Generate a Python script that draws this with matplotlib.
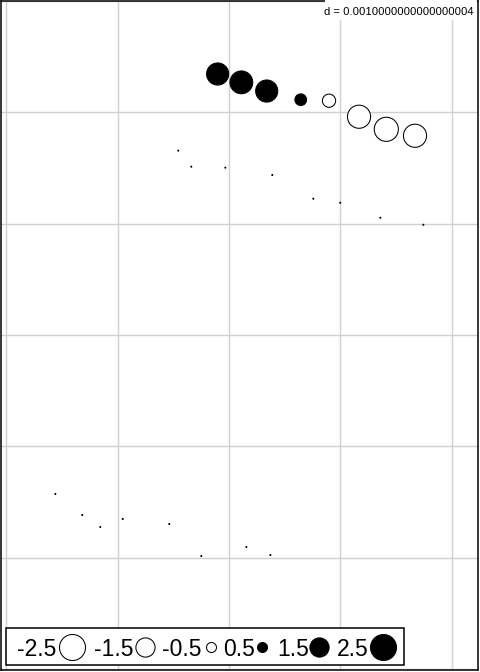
import numpy as np
import matplotlib.pyplot as plt
from matplotlib.patches import Rectangle
from matplotlib.lines import Line2D
from matplotlib.ticker import MultipleLocator

plt.rcParams['font.family'] = ['Liberation Sans', 'DejaVu Sans']

W, H, DPI = 480, 672, 100

# point coordinates and values
x = [-0.000102, 0.000111, 0.000339, 0.000645, 0.000899, 0.001169, 0.001414, 0.001672,
     -0.000456, -0.000339, -0.000033, 0.000389, 0.000758, 0.001000, 0.001360, 0.001747,
     -0.001561, -0.001319, -0.001157, -0.000955, -0.000537, -0.000249, 0.000156, 0.000372]
y = [0.002346, 0.002271, 0.002193, 0.002115, 0.002106, 0.001962, 0.001849, 0.001791,
     0.001657, 0.001513, 0.001504, 0.001438, 0.001225, 0.001189, 0.001054, 0.000991,
     -0.001429, -0.001618, -0.001726, -0.001654, -0.001699, -0.001987, -0.001906, -0.001978]
z = [1.9, 2.0, 1.9, 0.65, -0.8, -2.05, -2.2, -2.05,
     0.01, 0.01, 0.01, 0.01, 0.01, 0.01, 0.01, 0.01,
     0.01, 0.01, 0.01, 0.01, 0.01, 0.01, 0.01, 0.01]

legend_vals = [-2.5, -1.5, -0.5, 0.5, 1.5, 2.5]
legend_labels = ['-2.5', '-1.5', '-0.5', '0.5', '1.5', '2.5']
d = 0.001
d_label = 'd = 0.0010000000000000004'


def diam_px(v):
    # symbol diameter in pixels from the value
    return 15.1 * abs(v) ** 0.594


def px(xp, yp):
    return xp / W, 1 - yp / H


fig = plt.figure(figsize=(W / DPI, H / DPI), dpi=DPI)
ax = fig.add_axes([1 / W, 2 / H, 477 / W, 669 / H])

ax.set_xlim(-2.0494 * d, 2.2382 * d)
ax.set_ylim(-3.0112 * d, 3.0022 * d)
ax.xaxis.set_major_locator(MultipleLocator(d))
ax.yaxis.set_major_locator(MultipleLocator(d))
ax.grid(True, color='#D0D0D0', lw=1.0)
ax.set_axisbelow(True)
ax.tick_params(length=0, labelbottom=False, labelleft=False)
for sp in ax.spines.values():
    sp.set_linewidth(1.1)

sizes = [(diam_px(v) * 72 / DPI) ** 2 for v in z]
faces = ['black' if v > 0 else 'white' for v in z]
ax.scatter(x, y, s=sizes, c=faces, edgecolors='black', linewidths=0.75, zorder=3)

# grid size label
fig.add_artist(Rectangle(px(325, 20), 152 / W, 20 / H, transform=fig.transFigure,
                         facecolor='white', edgecolor='none', zorder=5))
fig.text(*px(474, 15.3), d_label, ha='right', va='baseline',
         fontsize=8.1, zorder=6)

# legend
fig.add_artist(Rectangle(px(6, 665), 398 / W, 37 / H, transform=fig.transFigure,
                         facecolor='white', edgecolor='black', lw=1.1, zorder=5))
text_x = [16.7, 94.3, 162.3, 223.3, 277.3, 336.7]
circ_x = [72.3, 145.2, 210.7, 262.0, 319.3, 383.3]
for lab, v, tx, cx in zip(legend_labels, legend_vals, text_x, circ_x):
    fig.text(*px(tx, 656), lab, ha='left', va='baseline', fontsize=16.5, zorder=6)
    fig.add_artist(Line2D([px(cx, 646.7)[0]], [px(cx, 646.7)[1]], marker='o',
                          markersize=diam_px(v) * 72 / DPI,
                          markerfacecolor='black' if v > 0 else 'white',
                          markeredgecolor='black', markeredgewidth=0.75,
                          linestyle='none', transform=fig.transFigure, zorder=6))

fig.savefig('out.png', dpi=DPI)
